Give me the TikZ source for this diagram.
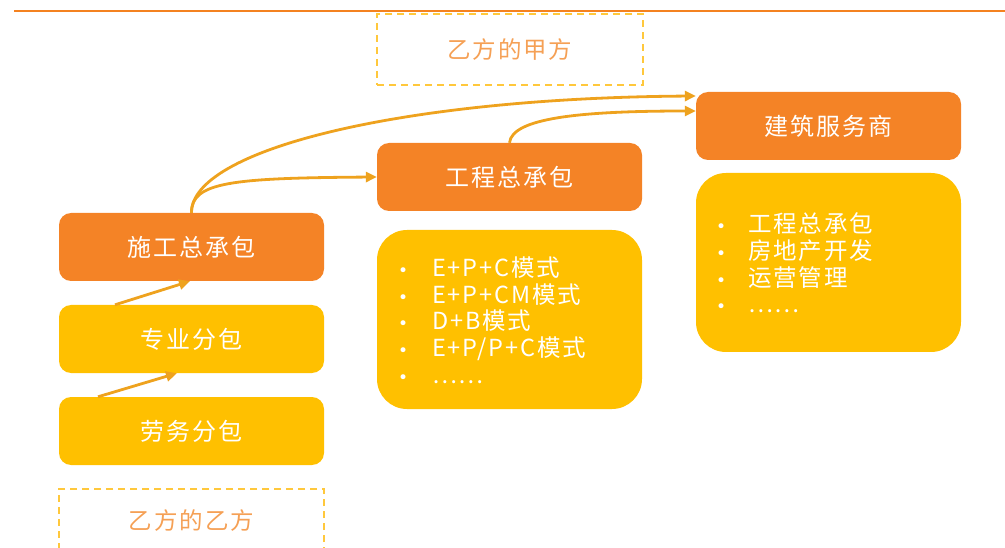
\documentclass[tikz,border=0pt]{standalone}
\usepackage{fontspec}
\setmainfont{Noto Sans CJK SC}
\newfontfamily\cjkfont[LetterSpace=8]{Noto Sans CJK SC}
\newfontfamily\bulletfont{DejaVu Sans}
\usetikzlibrary{arrows.meta}
\definecolor{orangebox}{RGB}{244,131,38}
\definecolor{yellowbox}{RGB}{255,192,0}
\definecolor{arrowc}{RGB}{238,162,30}
\definecolor{dashc}{RGB}{255,200,60}
\definecolor{dashtext}{RGB}{245,160,85}
\definecolor{topline}{RGB}{244,130,32}
\newcommand{\blt}[1]{\makebox[#1][l]{{\bulletfont\fontsize{17}{17}\selectfont •}}}
\begin{document}
\begin{tikzpicture}[x=1pt,y=-1pt,
  titlebox/.style={fill=orangebox, text=white, rounded corners=12pt, minimum width=265pt, minimum height=68pt, inner sep=0pt, font={\cjkfont\fontsize{24}{26}\selectfont}},
  lowbox/.style={titlebox, fill=yellowbox},
  listbox/.style={fill=yellowbox, rounded corners=30pt, minimum width=265pt, minimum height=179pt, inner sep=0pt},
  listtext/.style={text=white, align=left, inner sep=0pt, font={\cjkfont\fontsize{23.5}{26.7}\selectfont}},
  dashbox/.style={draw=dashc, dash pattern=on 7pt off 5pt, line width=1.5pt, text=dashtext, minimum width=266pt, inner sep=0pt, font={\cjkfont\fontsize{23.5}{26}\selectfont}},
  conn/.style={draw=arrowc, line width=2.8pt, -{Triangle[length=11pt,width=10pt]}}
]
\useasboundingbox (0,0) rectangle (1005,548);
\clip (0,0) rectangle (1005,548);
\draw[topline, line width=2.6pt] (14,11) -- (1005,11);

\node[dashbox, minimum height=71pt] (jiafang) at (510,49.5) {乙方的甲方};
\node[dashbox, minimum width=265pt, minimum height=64pt] (yifang) at (191.5,521) {乙方的乙方};

\node[titlebox] (jz) at (828.5,126) {建筑服务商};
\node[titlebox] (gc) at (509.5,177) {工程总承包};
\node[titlebox] (sg) at (191.5,247) {施工总承包};
\node[lowbox] (zy) at (191.5,339) {专业分包};
\node[lowbox] (lw) at (191.5,431) {劳务分包};

\node[listbox] (midbox) at (509.5,319.5) {};
\node[listbox] (rightbox) at (828.5,262.5) {};

\node[listtext, anchor=west] (midlist) at (398,320) {\blt{34pt}E+P+C模式\\\blt{34pt}E+P+CM模式\\\blt{34pt}D+B模式\\\blt{34pt}E+P/P+C模式\\\blt{34pt}……};
\node[listtext, anchor=west] (rightlist) at (716,263) {\blt{32pt}工程总承包\\\blt{32pt}房地产开发\\\blt{32pt}运营管理\\\blt{32pt}……};

\draw[conn] ([xshift=-93.5pt]lw.north) -- ([xshift=-14.5pt]zy.south);
\draw[conn] ([xshift=-76.5pt]zy.north) -- ([xshift=-1.5pt]sg.south);
\draw[conn] (sg.north) .. controls (191,182) and (232,178) .. (gc.west);
\draw[conn] (sg.north) .. controls (191,150) and (400,98) .. ([yshift=30pt]jz.west);
\draw[conn] (gc.north) .. controls (512,118) and (580,111) .. ([yshift=15pt]jz.west);
\end{tikzpicture}
\end{document}
